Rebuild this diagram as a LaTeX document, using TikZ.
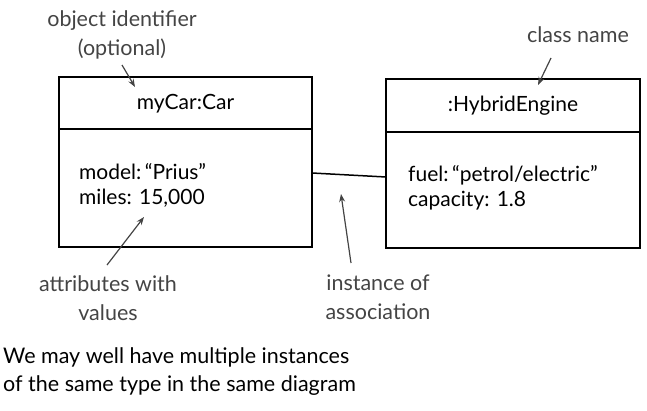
\documentclass[tikz,border=0pt]{standalone}
\usepackage{fontspec}
\setmainfont{Lato}
\usetikzlibrary{arrows.meta,calc}
\definecolor{note}{HTML}{444444}
\tikzset{
  box/.style={draw=black, line width=1.8pt, rectangle, inner sep=0pt, outer sep=0pt},
  txt/.style={font=\fontsize{21}{25}\selectfont, text=black, inner sep=0pt, align=left},
  notetxt/.style={font=\fontsize{21.5}{29}\selectfont, text=note, inner sep=0pt, align=center},
  notearrow/.style={draw=note, line width=1.2pt, -{Stealth[length=8pt,width=6pt]}},
  assoc/.style={draw=black, line width=1.5pt}
}
\begin{document}
\begin{tikzpicture}[x=1pt,y=-1pt]
\useasboundingbox (0,0) rectangle (647,410);
% left object
\node[box, minimum width=253pt, minimum height=52pt] (cartop) at (185.5,103) {};
\node[box, minimum width=253pt, minimum height=118pt, anchor=north] (carbody) at (cartop.south) {};
\node[txt] (carname) at (185.5,104) {myCar:Car};
\node[txt, anchor=west] (carattr) at (79,185) {model:\,“Prius”\\miles: 15,000};
% right object
\node[box, minimum width=254pt, minimum height=53pt] (engtop) at (513,105.5) {};
\node[box, minimum width=254pt, minimum height=116pt, anchor=north] (engbody) at (engtop.south) {};
\node[txt] (engname) at (513,106) {:HybridEngine};
\node[txt, anchor=west] (engattr) at (408,188) {fuel:\,“petrol/electric”\\capacity: 1.8};
% association
\coordinate (a1) at ($(carbody.north east)+(0,44)$);
\coordinate (a2) at ($(engbody.north west)+(0,45)$);
\draw[assoc] (a1) -- (a2);
% notes
\node[notetxt] (n1) at (122,35) {object identifier\\(optional)};
\node[notetxt] (n2) at (578,35) {class name};
\node[notetxt] (n3) at (108,298) {attributes with\\values};
\node[notetxt] (n4) at (378,297) {instance of\\association};
\coordinate (t1) at (135,87);
\coordinate (t2) at (538,85);
\coordinate (t3) at (144,217);
\coordinate (t4) at (341,194);
\draw[notearrow] (122,65) -- (t1);
\draw[notearrow] (551,58) -- (t2);
\draw[notearrow] (107,265) -- (t3);
\draw[notearrow] (351,263) -- (t4);
% bottom text
\node[txt, anchor=west, font=\fontsize{21.5}{28}\selectfont] (bottom) at (3,372) {We may well have multiple instances\\of the same type in the same diagram};
\end{tikzpicture}
\end{document}
